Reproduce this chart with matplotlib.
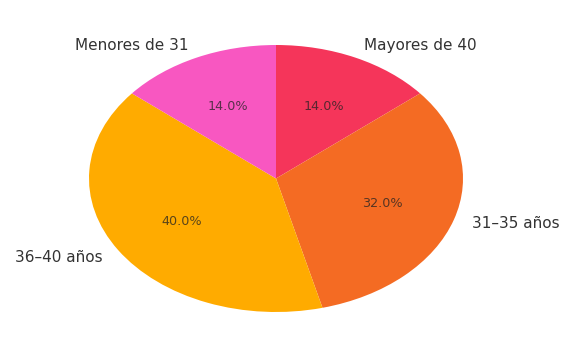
import matplotlib
matplotlib.use("Agg")
import matplotlib.pyplot as plt

labels = ["Mayores de 40", "31–35 años", "36–40 años", "Menores de 31"]
values = [14.0, 32.0, 40.0, 14.0]
colors = ["#F5355A", "#F46B23", "#FFAB00", "#F857C1"]

fig = plt.figure(figsize=(5.73, 3.45), dpi=100)
ax = fig.add_axes([89/573, 33/345, 374/573, 267/345])
wedges, texts, autotexts = ax.pie(
    values, labels=labels, colors=colors, autopct="%1.1f%%",
    startangle=90, counterclock=False, labeldistance=1.1, pctdistance=0.6,
    textprops=dict(fontsize=11, color="#333333"))
for t in autotexts:
    t.set_fontsize(9.2)
    t.set_color("#222222")
    t.set_alpha(0.75)
ax.set_aspect("auto")
ax.set_xlim(-1, 1)
ax.set_ylim(-1, 1)
ax.axis("off")
fig.savefig("out.png", dpi=100)
